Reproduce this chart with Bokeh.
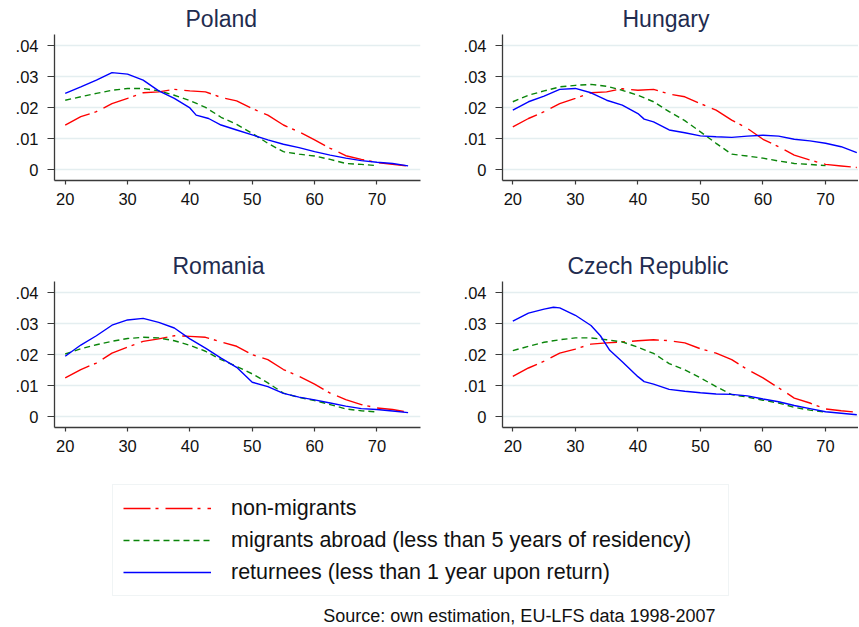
from bokeh.plotting import figure
from bokeh.layouts import column, row
from bokeh.models import (Range1d, FixedTicker, CustomJSTickFormatter, Title,
                          Legend, LegendItem, Label)
from bokeh.embed import file_html
from bokeh.resources import INLINE

FONT = "Liberation Sans"
NAN = float("nan")

# ---------------- data ----------------
AGES = [20, 22.5, 25, 27.5, 30, 32.5, 35, 37.5, 40, 42.5, 45, 47.5, 50,
        52.5, 55, 57.5, 60, 62.5, 65, 67.5, 70, 72.5, 75]
AGES_MIG = [20, 22.5, 25, 27.5, 30, 32.5, 35, 37.5, 40, 42.5, 45, 47.5, 50,
            52.5, 55, 57.5, 60, 62.5, 65, 67.5, 70]

# Poland
POL_NON = [0.0145, 0.0172, 0.0188, 0.0214, 0.0231, 0.0249, 0.0252, 0.0260, 0.0255,
           0.0252, 0.0234, 0.0223, 0.0198, 0.0177, 0.0145, 0.0123, 0.0097, 0.0070,
           0.0046, 0.0034, 0.0024, 0.0018, 0.0013]
POL_MIG = [0.0225, 0.0236, 0.0247, 0.0257, 0.0263, 0.0263, 0.0255, 0.0241, 0.0224,
           0.0202, 0.0170, 0.0147, 0.0118, 0.0086, 0.0059, 0.0051, 0.0045, 0.0034,
           0.0021, 0.0018, 0.0014]
POL_RET_AGES = [20, 22.5, 25, 27.5, 30, 32.5, 35, 37.5, 40, 41, 43, 45, 47.5, 50,
                52.5, 55, 57.5, 60, 62.5, 65, 67.5, 70, 72.5, 75]
POL_RET = [0.0247, 0.0268, 0.0290, 0.0314, 0.0309, 0.0290, 0.0255, 0.0231, 0.0200,
           0.0177, 0.0166, 0.0145, 0.0129, 0.0113, 0.0097, 0.0083, 0.0072, 0.0059,
           0.0048, 0.0038, 0.0030, 0.0025, 0.0021, 0.0013]

# Hungary
HUN_NON = [0.0139, 0.0166, 0.0188, 0.0214, 0.0231, 0.0249, 0.0252, 0.0262, 0.0257,
           0.0260, 0.0245, 0.0236, 0.0214, 0.0193, 0.0161, 0.0134, 0.0099, 0.0075,
           0.0048, 0.0032, 0.0018, 0.0013, 0.0008]
HUN_MIG = [0.0220, 0.0241, 0.0255, 0.0268, 0.0273, 0.0276, 0.0270, 0.0257, 0.0241,
           0.0220, 0.0188, 0.0159, 0.0123, 0.0086, 0.0051, 0.0045, 0.0038, 0.0029,
           0.0021, 0.0018, 0.0014]
HUN_RET_AGES = [20, 22.5, 25, 27.5, 30, 32.5, 35, 37.5, 40, 41, 42.5, 45, 47.5, 50,
                52.5, 55, 57.5, 60, 62.5, 65, 67.5, 70, 72.5, 75]
HUN_RET = [0.0193, 0.0220, 0.0238, 0.0260, 0.0263, 0.0249, 0.0225, 0.0209, 0.0182,
           0.0164, 0.0155, 0.0129, 0.0120, 0.0110, 0.0107, 0.0105, 0.0109, 0.0112,
           0.0109, 0.0099, 0.0094, 0.0086, 0.0075, 0.0056]

# Romania
ROM_NON = [0.0126, 0.0153, 0.0174, 0.0206, 0.0225, 0.0244, 0.0252, 0.0262, 0.0260,
           0.0257, 0.0242, 0.0228, 0.0201, 0.0185, 0.0153, 0.0131, 0.0106, 0.0077,
           0.0056, 0.0040, 0.0029, 0.0024, 0.0015]
ROM_MIG = [0.0203, 0.0220, 0.0233, 0.0244, 0.0253, 0.0257, 0.0255, 0.0246, 0.0231,
           0.0212, 0.0185, 0.0163, 0.0139, 0.0110, 0.0077, 0.0063, 0.0053, 0.0040,
           0.0026, 0.0020, 0.0016]
ROM_RET = [0.0196, 0.0232, 0.0262, 0.0296, 0.0313, 0.0318, 0.0305, 0.0287, 0.0252,
           0.0222, 0.0190, 0.0160, 0.0112, 0.0098, 0.0076, 0.0064, 0.0055, 0.0045,
           0.0035, 0.0027, 0.0024, 0.0019, 0.0014]

# Czech Republic
CZE_NON = [0.0131, 0.0158, 0.0180, 0.0206, 0.0219, 0.0235, 0.0239, 0.0242, 0.0246,
           0.0249, 0.0246, 0.0239, 0.0220, 0.0206, 0.0185, 0.0153, 0.0126, 0.0094,
           0.0061, 0.0045, 0.0026, 0.0020, 0.0015]
CZE_MIG = [0.0214, 0.0228, 0.0241, 0.0249, 0.0255, 0.0255, 0.0249, 0.0242, 0.0225,
           0.0205, 0.0172, 0.0152, 0.0126, 0.0098, 0.0072, 0.0064, 0.0054, 0.0045,
           0.0031, 0.0022, 0.0016]
CZE_RET_AGES = [20, 22.5, 25, 26.5, 27.5, 30, 32.5, 34, 35.5, 37.5, 40, 41, 42.5, 45,
                47.5, 50, 52.5, 55, 57.5, 60, 62.5, 65, 67.5, 70, 72.5, 75]
CZE_RET = [0.0309, 0.0335, 0.0348, 0.0354, 0.0352, 0.0328, 0.0295, 0.0262, 0.0215,
           0.0178, 0.0130, 0.0114, 0.0106, 0.0089, 0.0083, 0.0078, 0.0074, 0.0073,
           0.0068, 0.0058, 0.0049, 0.0037, 0.0027, 0.0017, 0.0012, 0.0007]

X_TICKS = [20, 30, 40, 50, 60, 70]
Y_TICKS = [0, 0.01, 0.02, 0.03, 0.04]

LABELS = ["non-migrants",
          "migrants abroad (less than 5 years of residency)",
          "returnees (less than 1 year upon return)"]
SOURCE = "Source: own estimation, EU-LFS data 1998-2007"

RED, GREEN, BLUE = "#ff0000", "#0a850a", "#0000ff"
RED_DASH, GREEN_DASH = "27 5 3 7", "6 4"
LW = 1.4


def panel(name, non, mig, ret_x, ret, left, right, top, bottom, fw, x0, x1, t_off):
    p = figure(frame_width=fw, frame_height=146,
               min_border_left=left, min_border_right=right,
               min_border_top=top, min_border_bottom=bottom,
               x_range=Range1d(x0, x1), y_range=Range1d(-0.0034, 0.0437),
               output_backend="svg", toolbar_location=None,
               background_fill_color="white", border_fill_color="white")
    p.title = Title(text=name, align="left", offset=t_off,
                    text_font=FONT, text_font_size="23px", text_font_style="normal",
                    text_color="#1f2c4f", standoff=6)
    p.outline_line_color = None
    p.xgrid.visible = False
    p.ygrid.grid_line_color = "#e4eef0"
    p.ygrid.grid_line_width = 1.3
    p.xaxis.ticker = FixedTicker(ticks=X_TICKS)
    p.yaxis.ticker = FixedTicker(ticks=Y_TICKS)
    p.yaxis.formatter = CustomJSTickFormatter(
        code="return tick == 0 ? '0' : tick.toFixed(2).replace(/^0/, '');")
    for ax in (p.xaxis[0], p.yaxis[0]):
        ax.axis_line_color = "#3a3a3a"
        ax.axis_line_width = 1.3
        ax.major_tick_line_color = "#3a3a3a"
        ax.major_tick_line_width = 1.2
        ax.major_tick_in = 0
        ax.minor_tick_line_color = None
        ax.major_label_text_font = FONT
        ax.major_label_text_font_size = "16.5px"
        ax.major_label_text_color = "#111111"
    p.xaxis.major_tick_out = 4
    p.xaxis.major_label_standoff = 8
    p.yaxis.major_tick_out = 7
    p.yaxis.major_label_standoff = 9

    p.line(AGES[:len(non)], non, line_color=RED, line_width=LW, line_dash=RED_DASH)
    p.line(AGES_MIG[:len(mig)], mig, line_color=GREEN, line_width=LW, line_dash=GREEN_DASH)
    p.line(ret_x, ret, line_color=BLUE, line_width=LW)
    return p


L_X0, L_X1 = 18.28, 76.99
R_X0, R_X1 = 18.35, 75.27
p1 = panel("Poland", POL_NON, POL_MIG, POL_RET_AGES, POL_RET,
           54, 10, 34, 67, 366, L_X0, L_X1, 131)
p2 = panel("Hungary", HUN_NON, HUN_MIG, HUN_RET_AGES, HUN_RET,
           72, 0, 34, 67, 356, R_X0, R_X1, 120)
p3 = panel("Romania", ROM_NON, ROM_MIG, AGES, ROM_RET,
           54, 10, 34, 46, 366, L_X0, L_X1, 118)
p4 = panel("Czech Republic", CZE_NON, CZE_MIG, CZE_RET_AGES, CZE_RET,
           72, 0, 34, 46, 356, R_X0, R_X1, 65)

# ---------------- legend + source ----------------
pl = figure(width=858, height=153, x_range=Range1d(0, 1), y_range=Range1d(0, 1),
            output_backend="svg", toolbar_location=None,
            min_border=0, min_border_left=0, min_border_right=0,
            min_border_top=0, min_border_bottom=0,
            x_axis_location=None, y_axis_location=None)
pl.outline_line_color = None
pl.grid.visible = False
r_non = pl.line(x=[NAN], y=[NAN], line_color=RED, line_width=LW, line_dash=RED_DASH)
r_mig = pl.line(x=[NAN], y=[NAN], line_color=GREEN, line_width=LW, line_dash=GREEN_DASH)
r_ret = pl.line(x=[NAN], y=[NAN], line_color=BLUE, line_width=LW)
legend = Legend(items=[LegendItem(label=LABELS[0], renderers=[r_non]),
                       LegendItem(label=LABELS[1], renderers=[r_mig]),
                       LegendItem(label=LABELS[2], renderers=[r_ret])],
                location=(112, 30), orientation="vertical", margin=0,
                padding=10, spacing=6, glyph_width=88, glyph_height=26,
                label_height=26, label_width=487, label_standoff=20,
                label_text_font=FONT, label_text_font_size="21.5px",
                label_text_color="#111111", border_line_color="#e1eaec",
                border_line_width=1.2, background_fill_color="white")
pl.add_layout(legend)
pl.add_layout(Label(x=715, y=11, x_units="screen", y_units="screen", text=SOURCE,
                    text_align="right", text_baseline="alphabetic",
                    text_font=FONT, text_font_size="18px", text_color="#111111"))

layout = column(row(p1, p2), row(p3, p4), pl)
open("out.html", "w").write(file_html(layout, INLINE))
